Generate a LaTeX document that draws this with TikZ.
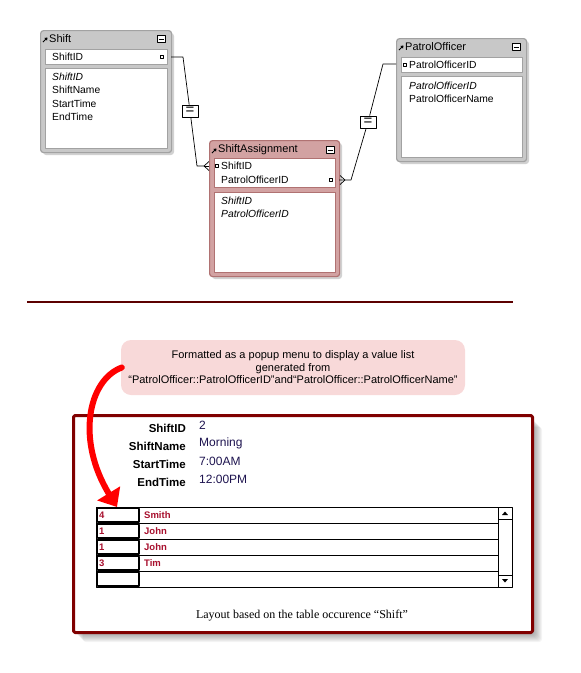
\documentclass[tikz,border=0pt]{standalone}
\usepackage{fontspec}
\setmainfont{Liberation Sans}
\newfontfamily\capserif{Liberation Serif}
\usetikzlibrary{arrows.meta,positioning}
\definecolor{tgray}{HTML}{C8C8C8}
\definecolor{tgrayline}{HTML}{A2A2A2}
\definecolor{tpink}{HTML}{D2A2A2}
\definecolor{tpinkline}{HTML}{B07272}
\definecolor{rulered}{HTML}{5C0000}
\definecolor{framered}{HTML}{800000}
\definecolor{callpink}{HTML}{F8D9D9}
\definecolor{rowred}{HTML}{A8102E}
\definecolor{valblue}{HTML}{1E1450}
\tikzset{
  every picture/.style={line join=round, >=Stealth},
  tblbox/.style={draw=tgrayline, fill=tgray, rounded corners=3pt, anchor=north west, inner sep=0pt, line width=1.2pt},
  sabox/.style={tblbox, draw=tpinkline, fill=tpink},
  fieldbox/.style={draw=tgrayline, fill=white, anchor=north west, inner sep=0pt, line width=0.6pt},
  titletxt/.style={anchor=west, inner sep=0pt, font=\fontsize{11}{12}\selectfont},
  fieldtxt/.style={anchor=west, inner sep=0pt, font=\fontsize{10.3}{12}\selectfont},
  keytxt/.style={fieldtxt, font=\fontsize{10.3}{12}\selectfont\itshape},
  keydot/.style={draw=black, fill=white, minimum size=3pt, inner sep=0pt, line width=0.6pt},
  menuicon/.style={draw=black, fill=white, minimum width=8pt, minimum height=7pt, inner sep=0pt, line width=0.7pt,
    path picture={\draw[line width=0.9pt] ([xshift=1.5pt]path picture bounding box.west) -- ([xshift=-1.5pt]path picture bounding box.east);}},
  titlearrow/.style={line width=1pt, -{Triangle[length=2.5pt,width=3.5pt]}},
  eqbox/.style={draw=black, fill=white, minimum width=16pt, minimum height=12pt, inner sep=0pt, line width=0.7pt, font=\fontsize{15}{15}\selectfont},
  link/.style={draw=black, line width=0.7pt},
  callout/.style={fill=callpink, rounded corners=10pt, minimum width=344pt, minimum height=55pt, align=center, inner sep=0pt, font=\fontsize{11}{12.5}\selectfont},
  redarrow/.style={draw=red, line width=6pt, line cap=round, -{Triangle[length=16pt,width=26pt]}},
  formframe/.style={draw=framered, fill=white, line width=3pt, rounded corners=1.5pt, anchor=north west, inner sep=0pt},
  formlabel/.style={anchor=east, inner sep=0pt, font=\fontsize{11.5}{12}\selectfont\bfseries},
  formvalue/.style={anchor=west, inner sep=0pt, text=valblue, font=\fontsize{12}{12}\selectfont},
  portalbox/.style={draw=black, fill=white, line width=0.8pt, anchor=north west, inner sep=0pt},
  rowtxt/.style={anchor=west, inner sep=0pt, text=rowred, font=\fontsize{9.5}{10}\selectfont\bfseries},
  idbox/.style={draw=black, line width=1.3pt},
  caption/.style={inner sep=0pt, font=\capserif\fontsize{12}{13}\selectfont},
}

\begin{document}
\begin{tikzpicture}[x=1pt,y=-1pt]
\useasboundingbox (0,0) rectangle (581,673);
% table occurrence Shift
\fill[black,opacity=0.18,rounded corners=3pt] (43,33) rectangle (174,155);
\node[tblbox, minimum width=131pt, minimum height=122pt] (shift) at (40,30) {};
\draw[titlearrow] (43,42) -- (47.5,37.5);
\node[titletxt] (shifttitle) at (49,39) {Shift};
\node[menuicon] (shiftmenu) at (161,39) {};
\node[fieldbox, minimum width=122pt, minimum height=15pt] (shiftkeys) at (45,49) {};
\node[fieldtxt] (shiftkeyid) at (52,57) {ShiftID};
\node[keydot] (shiftdot) at (162,57) {};
\node[fieldbox, minimum width=122pt, minimum height=80pt] (shiftlist) at (45,68) {};
\node[keytxt] (shiftf1) at (52,77) {ShiftID};
\node[fieldtxt] (shiftf2) at (52,90) {ShiftName};
\node[fieldtxt] (shiftf3) at (52,104) {StartTime};
\node[fieldtxt] (shiftf4) at (52,117) {EndTime};

% table occurrence ShiftAssignment
\fill[black,opacity=0.18,rounded corners=3pt] (212,143) rectangle (342,279);
\node[sabox, minimum width=130pt, minimum height=136pt] (assign) at (209,140) {};
\draw[titlearrow] (212,153) -- (216.5,148.5);
\node[titletxt] (assigntitle) at (218,150) {ShiftAssignment};
\node[menuicon] (assignmenu) at (330,150) {};
\node[fieldbox, draw=tpinkline, minimum width=121pt, minimum height=29pt] (assignkeys) at (214,158) {};
\node[keydot] (assigndot1) at (217,166) {};
\node[fieldtxt] (assignkey1) at (221,166) {ShiftID};
\node[fieldtxt] (assignkey2) at (221,180) {PatrolOfficerID};
\node[keydot] (assigndot2) at (331,180) {};
\node[fieldbox, draw=tpinkline, minimum width=121pt, minimum height=80pt] (assignlist) at (214,192) {};
\node[keytxt] (assignf1) at (221,201) {ShiftID};
\node[keytxt] (assignf2) at (221,214) {PatrolOfficerID};

% table occurrence PatrolOfficer
\fill[black,opacity=0.18,rounded corners=3pt] (399,41) rectangle (529,164);
\node[tblbox, minimum width=130pt, minimum height=123pt] (officer) at (396,38) {};
\draw[titlearrow] (399,50) -- (403.5,45.5);
\node[titletxt] (officertitle) at (405,47) {PatrolOfficer};
\node[menuicon] (officermenu) at (516,47) {};
\node[fieldbox, minimum width=121pt, minimum height=15pt] (officerkeys) at (401,57) {};
\node[keydot] (officerdot) at (405,65) {};
\node[fieldtxt] (officerkey) at (409,65) {PatrolOfficerID};
\node[fieldbox, minimum width=121pt, minimum height=81pt] (officerlist) at (401,76) {};
\node[keytxt] (officerf1) at (409,86) {PatrolOfficerID};
\node[fieldtxt] (officerf2) at (409,99) {PatrolOfficerName};

% relationships
\node[eqbox] (eqa) at (190,111) {=};
\node[eqbox] (eqb) at (368,122) {=};
\coordinate (shiftout) at (171,57);
\coordinate (benda) at (183,57);
\coordinate (bendb) at (197,166);
\coordinate (crowa) at (204,166);
\draw[link] (shiftout) -- (benda) -- (eqa) -- (bendb) -- (crowa);
\draw[link] (209,161.5) -- (crowa) -- (209,170.5);
\draw[link] (crowa) -- (209,166);
\coordinate (crowb) at (345,180);
\coordinate (bendc) at (351,180);
\coordinate (bendd) at (383,64);
\coordinate (officerin) at (396,64);
\draw[link] (340,175.5) -- (crowb) -- (340,184.5);
\draw[link] (339,180) -- (crowb) -- (bendc) -- (eqb) -- (bendd) -- (officerin);

\draw[rulered, line width=2pt] (27,302) -- (513,302);

% layout
\node[callout] (note) at (293,367.5) {Formatted as a popup menu to display a value list\\generated from\\“PatrolOfficer::PatrolOfficerID”and“PatrolOfficer::PatrolOfficerName”};
\foreach \d in {2,...,11}
  \fill[black, opacity=0.045, rounded corners=3pt] ({72+\d},{416+\d}) rectangle ({531+\d},{631+\d});
\node[formframe, minimum width=459pt, minimum height=217pt] (layout) at (72,414) {};
\foreach \lab/\val/\yy in {ShiftID/2/428, ShiftName/Morning/446, StartTime/7:00AM/464, EndTime/12:00PM/482} {
  \node[formlabel] (l\yy) at (186,\yy) {\lab};
  \node[formvalue] (v\yy) at (199,{\yy-2.5}) {\val};
}
\node[portalbox, minimum width=416pt, minimum height=80pt] (portal) at (96,507) {};
\draw[line width=0.8pt] (498,507) -- (498,587);
\draw[line width=0.8pt] (498,519) -- (512,519) (498,575) -- (512,575);
\fill[black] (502,515) -- (508,515) -- (505,511.5) -- cycle;
\fill[black] (502,579) -- (508,579) -- (505,582.5) -- cycle;
\foreach \r/\id/\nm in {0/4/Smith, 1/1/John, 2/1/John, 3/3/Tim, 4//} {
  \pgfmathsetmacro\ry{507+16*\r}
  \ifnum\r>0 \draw[line width=0.8pt] (96,\ry) -- (498,\ry); \fi
  \draw[idbox] (97.5,{\ry+1.5}) rectangle (139,{\ry+15});
  \node[rowtxt] (id\r) at (99,{\ry+8.5}) {\id};
  \node[rowtxt] (nm\r) at (144,{\ry+8.5}) {\nm};
}
\coordinate (arrowend) at (117,507);
\draw[redarrow] ([xshift=1pt]note.west) .. controls (88,380) and (76,440) .. (arrowend);
\node[caption] (cap) at (302,616) {Layout based on the table occurence “Shift”};
\end{tikzpicture}
\end{document}
